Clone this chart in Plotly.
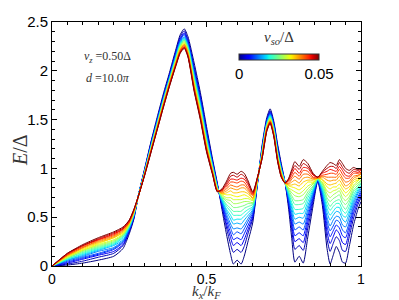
import plotly.graph_objects as go

# ---------------- data ----------------
kx = [0.000,0.050,0.100,0.150,0.200,0.230,0.250,0.265,0.280,0.300,0.320,0.340,0.360,0.380,0.400,0.415,0.428,0.440,0.460,0.480,
      0.500,0.520,0.535,0.550,0.565,0.578,0.587,0.599,0.612,0.622,0.635,0.650,0.665,0.680,0.695,0.706,0.718,0.730,0.742,0.754,
      0.766,0.776,0.786,0.800,0.813,0.828,0.845,0.860,0.875,0.890,0.900,0.910,0.920,0.930,0.940,0.950,0.962,0.976,0.990,1.000]

vso = [0.0000,0.0025,0.0050,0.0075,0.0100,0.0125,0.0150,0.0175,0.0200,0.0225,0.0250,
       0.0275,0.0300,0.0325,0.0350,0.0375,0.0400,0.0425,0.0450,0.0475,0.0500]

e00 = [0.00,0.01,0.03,0.06,0.10,0.18,0.33,0.48,0.73,1.00,1.27,1.52,1.76,1.98,2.21,2.37,2.43,2.35,2.08,1.78,1.43,1.09,0.85,0.58,0.32,0.12,0.02,0.06,0.02,0.10,0.26,0.45,0.84,1.24,1.52,1.61,1.48,1.25,1.05,0.86,0.58,0.28,0.04,0.10,0.03,0.30,0.62,0.87,0.62,0.18,0.02,0.11,0.20,0.14,0.04,0.03,0.20,0.42,0.58,0.66]
e01 = [0.00,0.02,0.05,0.09,0.13,0.21,0.35,0.49,0.73,0.99,1.26,1.50,1.74,1.96,2.19,2.35,2.41,2.32,2.04,1.75,1.40,1.07,0.84,0.61,0.39,0.22,0.14,0.17,0.14,0.20,0.34,0.49,0.85,1.22,1.50,1.59,1.46,1.23,1.03,0.86,0.62,0.37,0.17,0.21,0.16,0.39,0.66,0.87,0.66,0.28,0.15,0.23,0.30,0.26,0.16,0.15,0.30,0.49,0.63,0.70]
e02 = [0.00,0.03,0.07,0.11,0.15,0.22,0.36,0.50,0.73,0.99,1.25,1.49,1.73,1.95,2.18,2.33,2.39,2.31,2.02,1.72,1.38,1.06,0.83,0.62,0.43,0.29,0.21,0.24,0.21,0.27,0.38,0.51,0.85,1.21,1.49,1.58,1.45,1.21,1.02,0.86,0.64,0.42,0.25,0.28,0.24,0.45,0.69,0.88,0.69,0.35,0.23,0.30,0.37,0.33,0.24,0.22,0.36,0.54,0.66,0.73]
e03 = [0.00,0.04,0.08,0.12,0.17,0.24,0.37,0.51,0.73,0.98,1.24,1.49,1.72,1.94,2.17,2.32,2.38,2.29,2.00,1.71,1.36,1.05,0.83,0.64,0.47,0.34,0.27,0.29,0.27,0.33,0.42,0.53,0.86,1.20,1.48,1.57,1.44,1.20,1.01,0.86,0.66,0.47,0.31,0.34,0.31,0.50,0.71,0.88,0.71,0.41,0.30,0.36,0.42,0.39,0.31,0.29,0.41,0.58,0.69,0.75]
e04 = [0.00,0.05,0.09,0.13,0.18,0.25,0.38,0.51,0.73,0.98,1.23,1.48,1.71,1.93,2.15,2.31,2.37,2.28,1.99,1.69,1.35,1.04,0.82,0.65,0.50,0.39,0.32,0.35,0.33,0.38,0.46,0.55,0.86,1.19,1.47,1.56,1.43,1.19,1.00,0.86,0.68,0.51,0.37,0.40,0.37,0.54,0.73,0.88,0.73,0.46,0.36,0.41,0.47,0.45,0.37,0.34,0.45,0.61,0.71,0.77]
e05 = [0.00,0.06,0.10,0.15,0.19,0.26,0.38,0.52,0.73,0.97,1.23,1.47,1.71,1.93,2.15,2.30,2.35,2.27,1.97,1.67,1.33,1.03,0.82,0.66,0.53,0.43,0.38,0.39,0.38,0.42,0.49,0.57,0.87,1.19,1.47,1.55,1.42,1.18,1.00,0.86,0.70,0.55,0.43,0.45,0.43,0.58,0.75,0.89,0.75,0.50,0.41,0.47,0.51,0.50,0.42,0.40,0.50,0.64,0.74,0.79]
e06 = [0.00,0.06,0.11,0.16,0.21,0.27,0.39,0.52,0.73,0.97,1.22,1.46,1.70,1.92,2.14,2.29,2.34,2.26,1.96,1.66,1.32,1.02,0.81,0.67,0.56,0.48,0.43,0.44,0.43,0.47,0.52,0.58,0.87,1.18,1.46,1.55,1.41,1.17,0.99,0.86,0.72,0.59,0.48,0.50,0.49,0.62,0.76,0.89,0.77,0.55,0.47,0.52,0.56,0.55,0.48,0.45,0.54,0.67,0.76,0.81]
e07 = [0.00,0.07,0.12,0.17,0.22,0.29,0.40,0.53,0.73,0.97,1.22,1.46,1.69,1.91,2.13,2.28,2.33,2.25,1.94,1.65,1.31,1.01,0.81,0.68,0.58,0.52,0.47,0.48,0.48,0.51,0.55,0.60,0.87,1.17,1.45,1.54,1.40,1.16,0.98,0.86,0.73,0.62,0.53,0.54,0.54,0.66,0.78,0.89,0.79,0.59,0.52,0.56,0.60,0.60,0.52,0.50,0.57,0.70,0.78,0.82]
e08 = [0.00,0.07,0.13,0.18,0.23,0.30,0.40,0.53,0.72,0.96,1.21,1.45,1.69,1.91,2.12,2.27,2.32,2.24,1.93,1.63,1.29,1.01,0.80,0.69,0.61,0.56,0.52,0.52,0.52,0.55,0.58,0.61,0.88,1.17,1.45,1.53,1.40,1.16,0.98,0.85,0.75,0.65,0.58,0.58,0.59,0.70,0.79,0.89,0.80,0.63,0.57,0.61,0.64,0.64,0.57,0.54,0.61,0.73,0.80,0.84]
e09 = [0.00,0.08,0.14,0.19,0.24,0.31,0.41,0.54,0.72,0.96,1.21,1.45,1.68,1.90,2.11,2.26,2.32,2.23,1.91,1.62,1.28,1.00,0.80,0.70,0.63,0.59,0.56,0.56,0.56,0.59,0.61,0.63,0.88,1.16,1.44,1.52,1.39,1.15,0.97,0.85,0.76,0.69,0.63,0.63,0.64,0.73,0.81,0.89,0.82,0.67,0.61,0.65,0.67,0.68,0.62,0.58,0.65,0.76,0.81,0.85]
e10 = [0.00,0.08,0.15,0.20,0.25,0.32,0.42,0.54,0.72,0.96,1.20,1.44,1.67,1.89,2.11,2.25,2.31,2.22,1.90,1.61,1.27,0.99,0.79,0.71,0.66,0.63,0.60,0.60,0.61,0.62,0.64,0.64,0.88,1.15,1.43,1.52,1.38,1.14,0.96,0.85,0.78,0.72,0.67,0.67,0.68,0.76,0.82,0.89,0.84,0.70,0.66,0.69,0.71,0.73,0.66,0.63,0.68,0.78,0.83,0.87]
e11 = [0.00,0.09,0.16,0.21,0.26,0.32,0.42,0.55,0.72,0.95,1.20,1.43,1.67,1.89,2.10,2.25,2.30,2.21,1.89,1.60,1.26,0.98,0.79,0.72,0.68,0.67,0.64,0.64,0.65,0.66,0.66,0.65,0.89,1.15,1.43,1.51,1.37,1.13,0.96,0.85,0.79,0.75,0.72,0.71,0.73,0.79,0.84,0.90,0.85,0.74,0.70,0.73,0.75,0.77,0.70,0.67,0.71,0.81,0.85,0.88]
e12 = [0.00,0.09,0.16,0.22,0.27,0.33,0.43,0.55,0.72,0.95,1.19,1.43,1.66,1.88,2.09,2.24,2.29,2.20,1.88,1.58,1.25,0.98,0.79,0.73,0.70,0.70,0.68,0.68,0.68,0.69,0.69,0.67,0.89,1.14,1.42,1.51,1.37,1.12,0.95,0.85,0.80,0.78,0.76,0.74,0.77,0.82,0.85,0.90,0.86,0.77,0.75,0.77,0.78,0.80,0.75,0.71,0.75,0.83,0.87,0.90]
e13 = [0.00,0.10,0.17,0.23,0.29,0.34,0.43,0.55,0.72,0.95,1.19,1.42,1.66,1.88,2.08,2.23,2.28,2.19,1.87,1.57,1.24,0.97,0.78,0.74,0.73,0.73,0.72,0.71,0.72,0.73,0.71,0.68,0.89,1.14,1.42,1.50,1.36,1.12,0.95,0.85,0.82,0.81,0.80,0.78,0.81,0.86,0.86,0.90,0.88,0.81,0.79,0.81,0.81,0.84,0.79,0.75,0.78,0.86,0.88,0.91]
e14 = [0.00,0.10,0.18,0.24,0.29,0.35,0.44,0.56,0.72,0.95,1.18,1.42,1.65,1.87,2.08,2.22,2.27,2.19,1.85,1.56,1.23,0.97,0.78,0.74,0.75,0.77,0.75,0.75,0.76,0.76,0.74,0.69,0.89,1.13,1.41,1.49,1.36,1.11,0.94,0.85,0.83,0.83,0.84,0.82,0.86,0.88,0.88,0.90,0.89,0.84,0.83,0.84,0.85,0.88,0.83,0.79,0.81,0.88,0.90,0.92]
e15 = [0.00,0.11,0.19,0.25,0.30,0.36,0.44,0.56,0.72,0.94,1.18,1.41,1.65,1.87,2.07,2.21,2.27,2.18,1.84,1.55,1.22,0.96,0.78,0.75,0.77,0.80,0.79,0.78,0.80,0.80,0.76,0.70,0.90,1.13,1.41,1.49,1.35,1.10,0.94,0.85,0.84,0.86,0.88,0.85,0.90,0.91,0.89,0.90,0.91,0.88,0.87,0.88,0.88,0.92,0.87,0.82,0.84,0.90,0.92,0.94]
e16 = [0.00,0.11,0.19,0.26,0.31,0.37,0.45,0.57,0.72,0.94,1.18,1.41,1.64,1.86,2.06,2.21,2.26,2.17,1.83,1.54,1.21,0.95,0.77,0.76,0.79,0.83,0.82,0.81,0.83,0.83,0.78,0.72,0.90,1.12,1.40,1.48,1.34,1.10,0.93,0.85,0.85,0.89,0.92,0.89,0.94,0.94,0.90,0.90,0.92,0.91,0.91,0.91,0.91,0.95,0.90,0.86,0.87,0.92,0.93,0.95]
e17 = [0.00,0.12,0.20,0.27,0.32,0.38,0.45,0.57,0.72,0.94,1.17,1.40,1.64,1.86,2.06,2.20,2.25,2.16,1.82,1.53,1.20,0.95,0.77,0.77,0.81,0.86,0.86,0.85,0.87,0.86,0.80,0.73,0.90,1.12,1.40,1.48,1.34,1.09,0.93,0.85,0.87,0.91,0.96,0.92,0.98,0.97,0.91,0.91,0.93,0.94,0.95,0.95,0.94,0.99,0.94,0.90,0.90,0.95,0.95,0.96]
e18 = [0.00,0.12,0.21,0.27,0.33,0.38,0.46,0.57,0.72,0.94,1.17,1.40,1.63,1.85,2.05,2.19,2.24,2.15,1.81,1.52,1.19,0.94,0.77,0.78,0.83,0.89,0.89,0.88,0.90,0.89,0.83,0.74,0.91,1.11,1.39,1.47,1.33,1.08,0.92,0.85,0.88,0.94,1.00,0.95,1.01,1.00,0.93,0.91,0.95,0.97,0.99,0.98,0.97,1.02,0.98,0.93,0.92,0.97,0.96,0.98]
e19 = [0.00,0.13,0.21,0.28,0.34,0.39,0.47,0.58,0.72,0.93,1.16,1.39,1.62,1.84,2.05,2.19,2.24,2.15,1.80,1.51,1.18,0.94,0.76,0.78,0.85,0.92,0.93,0.91,0.94,0.92,0.85,0.75,0.91,1.10,1.38,1.47,1.33,1.08,0.91,0.85,0.89,0.97,1.03,0.99,1.05,1.02,0.94,0.91,0.96,1.00,1.02,1.02,1.00,1.06,1.01,0.97,0.95,0.99,0.98,0.99]
e20 = [0.00,0.13,0.22,0.29,0.35,0.40,0.47,0.58,0.72,0.93,1.16,1.39,1.62,1.84,2.04,2.18,2.23,2.14,1.79,1.50,1.17,0.93,0.76,0.79,0.87,0.95,0.96,0.94,0.97,0.95,0.87,0.76,0.91,1.10,1.38,1.46,1.32,1.07,0.91,0.85,0.90,0.99,1.07,1.02,1.09,1.05,0.95,0.91,0.97,1.03,1.06,1.05,1.03,1.09,1.05,1.00,0.98,1.01,0.99,1.00]

curves = [e00, e01, e02, e03, e04, e05, e06, e07, e08, e09, e10,
          e11, e12, e13, e14, e15, e16, e17, e18, e19, e20]

x_ticks = [0, 0.5, 1]
x_ticklabels = ["0", "0.5", "1"]
y_ticks = [0, 0.5, 1, 1.5, 2, 2.5]
y_ticklabels = ["0", "0.5", "1", "1.5", "2", "2.5"]

# ---------------- style ----------------
def _interp(t, pts):
    for (t0, v0), (t1, v1) in zip(pts[:-1], pts[1:]):
        if t <= t1:
            if t1 == t0:
                return v1
            return v0 + (v1 - v0) * (t - t0) / (t1 - t0)
    return pts[-1][1]

R_PTS = [(0, 0), (0.35, 0), (0.66, 1), (0.89, 1), (1, 0.5)]
G_PTS = [(0, 0), (0.125, 0), (0.375, 1), (0.64, 1), (0.91, 0), (1, 0)]
B_PTS = [(0, 0.5), (0.11, 1), (0.34, 1), (0.65, 0), (1, 0)]

def jet(t):
    r = _interp(t, R_PTS); g = _interp(t, G_PTS); b = _interp(t, B_PTS)
    return "rgb(%d,%d,%d)" % (round(255 * r), round(255 * g), round(255 * b))

jet_scale = [[i / 40, jet(i / 40)] for i in range(41)]

vmin, vmax = vso[0], vso[-1]
fig = go.Figure()
for v, e in zip(vso, curves):
    t = (v - vmin) / (vmax - vmin)
    fig.add_trace(go.Scatter(
        x=kx, y=e, mode="lines",
        line=dict(color=jet(t), width=1.0, shape="spline", smoothing=0.6),
        showlegend=False, hoverinfo="skip"))

# colorbar holder
fig.add_trace(go.Scatter(
    x=[None], y=[None], mode="markers", showlegend=False, hoverinfo="skip",
    marker=dict(color=[vmin], cmin=vmin, cmax=vmax, colorscale=jet_scale, showscale=True,
                colorbar=dict(orientation="h", x=0.735, xanchor="center", y=0.869, yanchor="top",
                              len=0.26, lenmode="fraction", thickness=6, xpad=0, ypad=0,
                              outlinewidth=1, outlinecolor="#333",
                              tickvals=[vmin, vmax], ticktext=["0", "0.05"], ticks="",
                              tickfont=dict(family="Liberation Sans, Arial", size=15, color="black")))))

serif = "Liberation Serif, DejaVu Serif, serif"
def note(text, x, y, size, angle=0):
    fig.add_annotation(x=x, y=y, xref="paper", yref="paper", showarrow=False,
                       xanchor="center", yanchor="middle", textangle=angle,
                       text=text, font=dict(family=serif, size=size, color="#333"))

note("<i>v<sub>so</sub></i>/Δ", 0.735, 0.934, 15)
note("<i>v<sub>z</sub></i> =0.50Δ", 0.18, 0.857, 12)
note("<i>d</i> =10.0<i>π</i>", 0.18, 0.77, 12)
note("<i>k<sub>x</sub></i>/<i>k<sub>F</sub></i>", 0.5, -0.105, 15)
note("<i>E</i>/Δ", -0.104, 0.475, 20, angle=-90)

axis_common = dict(showline=True, linecolor="black", linewidth=1, mirror="ticks",
                   ticks="inside", ticklen=5, tickcolor="black", showgrid=False, zeroline=False,
                   automargin=False)

fig.update_layout(
    width=399, height=300,
    margin=dict(l=52, r=38, t=22, b=34, autoexpand=False),
    paper_bgcolor="white", plot_bgcolor="white",
    xaxis=dict(range=[0, 1], tickvals=x_ticks, ticktext=x_ticklabels,
               tickfont=dict(family="Liberation Sans, Arial", size=14, color="black"),
               minor=dict(ticks="inside", dtick=0.05, tick0=0, ticklen=3, tickcolor="black"),
               **axis_common),
    yaxis=dict(range=[0, 2.5], tickvals=y_ticks, ticktext=y_ticklabels,
               tickfont=dict(family="Liberation Sans, Arial", size=15, color="black"),
               minor=dict(ticks="inside", dtick=0.1, tick0=0, ticklen=3, tickcolor="black"),
               **axis_common),
)

fig.write_html("out.html", config={"displayModeBar": False},
               post_script="document.body.style.margin='0';document.body.style.overflow='hidden';")
